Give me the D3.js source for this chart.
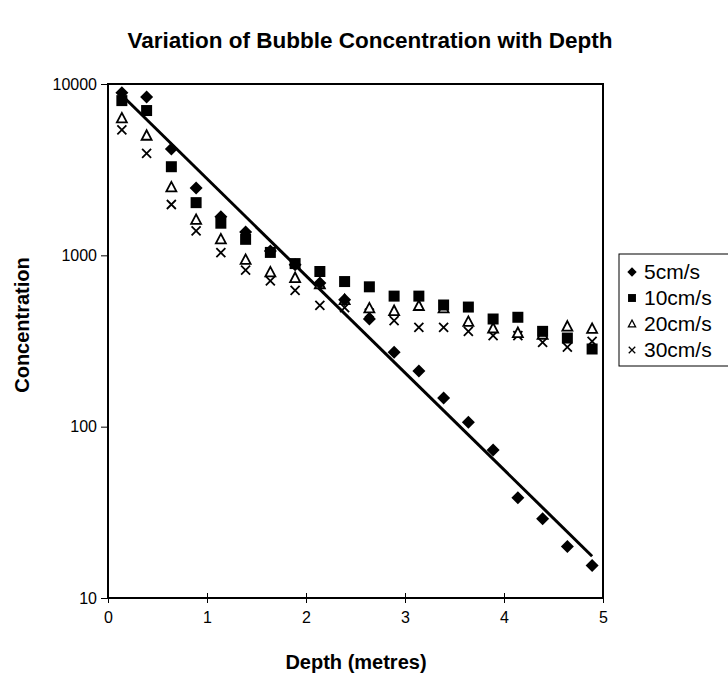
<!DOCTYPE html>
<html>
<head>
<meta charset="utf-8">
<script src="https://cdn.jsdelivr.net/npm/d3@7"></script>
<style>
  body { margin: 0; background: #fff; }
  svg { font-family: "Liberation Sans", Arial, sans-serif; }
</style>
</head>
<body>
<svg id="chart" width="728" height="673"></svg>
<script>
// depth of each sample (metres)
const depths = [0.14, 0.39, 0.64, 0.89, 1.14, 1.39, 1.64, 1.89, 2.14, 2.39,
                2.64, 2.89, 3.14, 3.39, 3.64, 3.89, 4.14, 4.39, 4.64, 4.89];
// bubble concentration per gas velocity
const conc5  = [8900, 8400, 4180, 2470, 1680, 1370, 1060, 880, 690, 550,
                425, 272, 211, 147, 106, 73, 38.5, 29, 20, 15.5];
const conc10 = [8000, 7000, 3290, 2030, 1540, 1240, 1040, 895, 805, 703,
                655, 578, 578, 513, 499, 425, 435, 360, 329, 284];
const conc20 = [6300, 4990, 2490, 1610, 1240, 940, 795, 737, 678, 548,
                490, 473, 506, 490, 409, 374, 352, 344, 384, 372];
const conc30 = [5390, 3940, 1980, 1390, 1036, 820, 710, 625, 510, 495,
                460, 416, 380, 380, 360, 340, 340, 310, 291, 315];
const seriesNames = ["5cm/s", "10cm/s", "20cm/s", "30cm/s"];
const xTicks = [0, 1, 2, 3, 4, 5];
const yTicks = [10, 100, 1000, 10000];

const svg = d3.select("#chart");
const margin = { top: 84, right: 125, bottom: 75, left: 108 };
const width = +svg.attr("width");
const height = +svg.attr("height");
const innerW = width - margin.left - margin.right;
const innerH = height - margin.top - margin.bottom;

const x = d3.scaleLinear().domain([0, 5]).range([0, innerW]);
const y = d3.scaleLog().domain([10, 10000]).range([innerH, 0]);

svg.append("text")
  .attr("x", 370).attr("y", 48)
  .attr("text-anchor", "middle")
  .style("font-size", "22.5px").style("font-weight", "bold")
  .text("Variation of Bubble Concentration with Depth");

const g = svg.append("g").attr("transform", `translate(${margin.left},${margin.top})`);

// axes
const yAxis = g.append("g")
  .call(d3.axisLeft(y).tickValues(yTicks).tickFormat(d3.format("d")).tickSize(7).tickSizeOuter(0));
yAxis.select(".domain").remove();
yAxis.selectAll("text").style("font-size", "16px").attr("x", -11);

const xAxis = g.append("g")
  .attr("transform", `translate(0,${innerH})`)
  .call(d3.axisBottom(x).tickValues(xTicks).tickFormat(d3.format("d")).tickSize(5).tickSizeOuter(0));
xAxis.select(".domain").remove();
xAxis.selectAll("line").attr("y1", -5);
xAxis.selectAll("text").style("font-size", "16px").attr("y", 14);

g.append("rect")
  .attr("width", innerW).attr("height", innerH)
  .attr("fill", "none").attr("stroke", "#000").attr("stroke-width", 2);

// exponential trendline for 5cm/s (least squares on log10)
const lx = depths, ly = conc5.map(v => Math.log10(v));
const mx = d3.mean(lx), my = d3.mean(ly);
const slope = d3.sum(lx, (d, i) => (d - mx) * (ly[i] - my)) / d3.sum(lx, d => (d - mx) ** 2);
const fit = d => Math.pow(10, my + slope * (d - mx));
g.append("path")
  .attr("d", d3.line().x(d => x(d)).y(d => y(fit(d)))(d3.extent(depths)))
  .attr("stroke", "#000").attr("stroke-width", 3).attr("fill", "none");

// marker shapes
const shapes = {
  diamond: "M0,-6.5L6.5,0L0,6.5L-6.5,0Z",
  square: "M-5.5,-5.5H5.5V5.5H-5.5Z",
  triangle: "M0,-5.5L5,4H-5Z",
  cross: "M-4.5,-4.5L4.5,4.5M-4.5,4.5L4.5,-4.5"
};
const series = [
  { name: seriesNames[0], values: conc5, shape: "diamond" },
  { name: seriesNames[1], values: conc10, shape: "square" },
  { name: seriesNames[2], values: conc20, shape: "triangle" },
  { name: seriesNames[3], values: conc30, shape: "cross" }
];
const styleMark = (sel, shape) => {
  sel.attr("d", shapes[shape]);
  if (shape === "diamond" || shape === "square") sel.attr("fill", "#000");
  else sel.attr("fill", shape === "triangle" ? "#fff" : "none").attr("stroke", "#000").attr("stroke-width", 1.8);
};

series.slice().reverse().forEach(s => {
  g.append("g").selectAll("path")
    .data(s.values.map((v, i) => ({ d: depths[i], v })))
    .enter().append("path")
    .attr("transform", p => `translate(${x(p.d)},${y(p.v)})`)
    .call(styleMark, s.shape);
});

// axis titles
svg.append("text")
  .attr("x", 356).attr("y", 669)
  .attr("text-anchor", "middle")
  .style("font-size", "20px").style("font-weight", "bold")
  .text("Depth (metres)");

svg.append("text")
  .attr("transform", "translate(29,325) rotate(-90)")
  .attr("text-anchor", "middle")
  .style("font-size", "20px").style("font-weight", "bold")
  .text("Concentration");

// legend
const legend = svg.append("g").attr("transform", "translate(619,254)");
legend.append("rect")
  .attr("width", 140).attr("height", 112)
  .attr("fill", "#fff").attr("stroke", "#000").attr("stroke-width", 1);
series.forEach((s, i) => {
  const row = legend.append("g").attr("transform", `translate(0,${18 + i * 26})`);
  row.append("path").attr("transform", "translate(13,0) scale(0.72)").call(styleMark, s.shape);
  row.append("text").attr("x", 25).attr("dy", "0.35em")
    .style("font-size", "21px").text(s.name);
});
</script>
</body>
</html>
